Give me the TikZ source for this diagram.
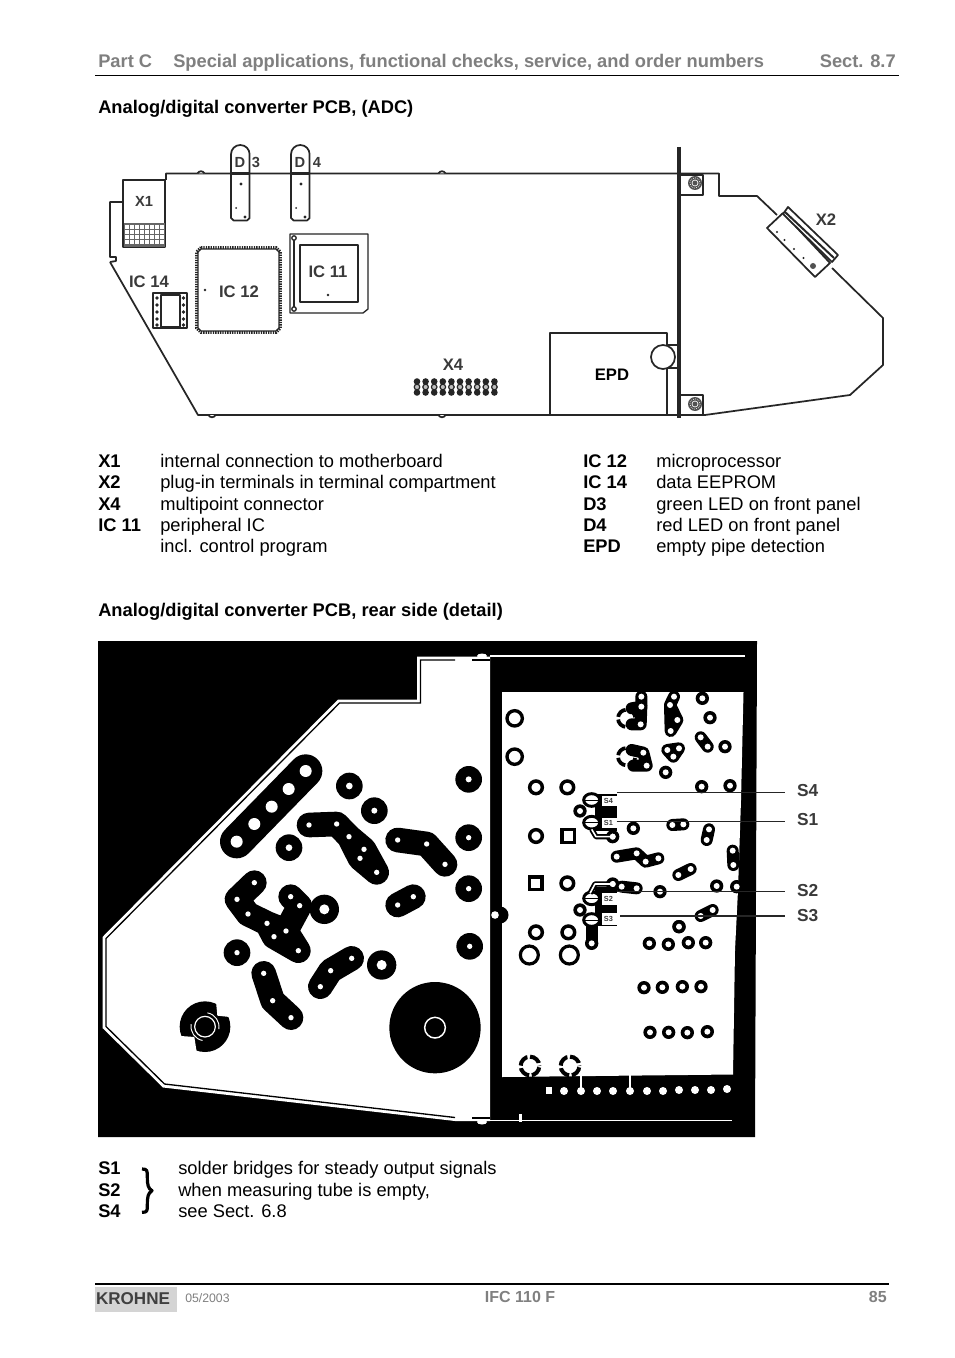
\documentclass[tikz,border=0pt]{standalone}
\usepackage{fontspec}
\setmainfont{Liberation Sans}
\definecolor{hdgray}{HTML}{7F7F7F}
\definecolor{ftgray}{HTML}{808080}
\definecolor{ink}{HTML}{262626}
\definecolor{lab}{HTML}{3A3A3A}
\tikzset{
  x=0.75pt,y=-0.75pt,
  hd/.style={anchor=base west,inner sep=0,text=hdgray,font=\bfseries\fontsize{13.72}{15}\selectfont},
  ttl/.style={anchor=base west,inner sep=0,font=\bfseries\fontsize{13.72}{15}\selectfont},
  txt/.style={anchor=base west,inner sep=0,font=\fontsize{13.72}{15}\selectfont},
  biglab/.style={inner sep=0,text=lab,font=\bfseries\fontsize{12.5}{14}\selectfont},
  midlab/.style={inner sep=0,text=lab,font=\bfseries\fontsize{11}{13}\selectfont},
  slab/.style={inner sep=0,text=lab,font=\bfseries\fontsize{13}{14}\selectfont},
  tiny/.style={inner sep=0,text=lab,font=\bfseries\fontsize{5.5}{6}\selectfont},
  pcb/.style={draw=ink,line width=1.3pt,line join=round},
  thin/.style={draw=ink,line width=1pt,line join=round},
  zL/.style={shift={(95,640)},x=.25pt,y=-.25pt},
  zR/.style={shift={(480,640)},x=.25pt,y=-.25pt},
  zS/.style={shift={(480,900)},x=.25pt,y=-.25pt},
  trk/.style={draw=black,line width=18.5pt,line cap=round,line join=round},
  rtrk/.style={draw=black,line width=9pt,line cap=round,line join=round},
}
\begin{document}
\begin{tikzpicture}
\useasboundingbox (0,0) rectangle (954,1358);
\fill[white] (0,0) rectangle (954,1358);
% header
\node[hd] (hA) at (98,68) {Part C};
\node[hd] (hB) at (173,68) {Special applications, functional checks, service, and order numbers};
\node[hd,anchor=base east] (hC) at (896,68) {Sect. 8.7};
\draw[black,line width=0.75pt] (95,76) -- (899,76);
\node[ttl] (t1) at (98,114) {Analog/digital converter PCB, (ADC)};

% ---- upper board
\draw[pcb] (166,180) -- (166,173.5) -- (680,173.5) -- (719,173.5) -- (719,196) -- (757,196) -- (777,215);
\draw[pcb] (832,268) -- (883,318) -- (883,365) -- (850,395) -- (705,415) -- (198,415) -- (110,262);
\draw[pcb] (123,202) -- (110,202) -- (110,257) -- (116,257) -- (116,261) -- (110,262);
\foreach \cx/\cy in {201/173.5,442/173.5}
  \draw[pcb,fill=white] (\cx-3.5,\cy) .. controls (\cx-2,\cy-3) and (\cx+2,\cy-3) .. (\cx+3.5,\cy);
\foreach \cx/\cy in {212/415,442/415}
  \draw[pcb,fill=white] (\cx-3.5,\cy) .. controls (\cx-2,\cy+3) and (\cx+2,\cy+3) .. (\cx+3.5,\cy);
\draw[draw=ink,line width=2.4pt] (679,147) -- (679,418);
% X1
\draw[pcb] (123,180) rectangle (165,247);
\fill[ink!70] (124,223) rectangle (165,247);
\foreach \yy in {227,232,237,242} \foreach \xx in {127,132,...,162}
  \fill[white] (\xx-1.6,\yy-1.6) rectangle (\xx+1.6,\yy+1.6);
\node[midlab] (x1) at (144,201) {X1};
% D3 D4
\foreach \xa in {231,291}{
  \draw[pcb] (\xa,218) -- (\xa,154.3) arc[start angle=180,end angle=360,radius=9.3] -- (\xa+18.6,218) -- (\xa+16,220.5) -- (\xa+2.6,220.5) -- cycle;
  \draw[draw=ink,line width=1.6pt] (\xa,173.5) -- (\xa+18.6,173.5);
  \fill[ink] (\xa+10,184) circle (1.6);
  \fill[ink] (\xa+5,208) circle (1);
  \fill[ink] (\xa+14,217) circle (1.6);
}
\node[midlab] (d3a) at (240,162) {D};
\node[midlab] (d3b) at (256,162) {3};
\node[midlab] (d4a) at (300,162) {D};
\node[midlab] (d4b) at (317,162) {4};
% IC12
\draw[ink,line width=2.2pt,dash pattern=on 1pt off 0.8pt] (201,247.5) -- (276,247.5) -- (280.5,252) -- (280.5,328) -- (276,332.5) -- (201,332.5) -- (196.5,328) -- (196.5,252) -- cycle;
\draw[thin] (201,249) -- (276,249) -- (279,252) -- (279,328) -- (276,331) -- (201,331) -- (198,328) -- (198,252) -- cycle;
\fill[ink] (205,290) circle (1.3);
\node[biglab] (ic12) at (239,292) {IC 12};
% IC11
\draw[thin] (290,234) -- (368,234) -- (368,309) -- (363,313) -- (290,313) -- cycle;
\draw[thin] (294,240) -- (294,307);
\draw[pcb] (300,245) rectangle (358,302);
\draw[thin,fill=white] (294,238) circle (2.2);
\draw[thin,fill=white] (294,309) circle (2.2);
\fill[ink] (328,295) circle (1.4);
\node[biglab] (ic11) at (328,272) {IC 11};
% IC14
\draw[pcb] (153,293) rectangle (187,328);
\draw[thin] (161,295) rectangle (180,327);
\foreach \yy in {298,305,312,319,325}{\fill[ink] (157,\yy) circle (1.8);\fill[ink] (183.5,\yy) circle (1.8);}
\node[biglab] (ic14) at (149,282) {IC 14};
% X4
\node[biglab] (x4) at (453,365) {X4};
\foreach \xx in {417,425.6,...,498}{
  \fill[ink] (\xx,381.5) circle (3.3);
  \fill[ink] (\xx,392.5) circle (3.3);
  \draw[ink,fill=white!75!black,line width=0.9pt] (\xx,387) circle (2.8);
}
% screws
\foreach \cy/\ya/\yb in {183/175/195,404/395/415}{
  \draw[thin] (680,\ya) rectangle (703,\yb);
  \fill[ink!80] (695,\cy) circle (7);
  \draw[white,line width=.5pt] (695,\cy) circle (3);
  \draw[white,line width=.5pt,densely dotted] (695,\cy) circle (5.2);
}
% EPD
\draw[pcb] (550,415) -- (550,333) -- (667,333) -- (667,415);
\draw[pcb,fill=white] (663,357) circle (12);
\draw[thin] (667,345) -- (679,345);
\draw[thin] (667,368) -- (679,368);
\node[ttl,anchor=center,font=\bfseries\fontsize{12.5}{14}\selectfont] (epd) at (612,375) {EPD};
% X2
\draw[pcb,fill=white] (767,228) -- (783,213) -- (830,263) -- (815,277) -- cycle;
\draw[pcb,fill=white] (783,214) -- (788,207) -- (838,255) -- (832,262) -- cycle;
\draw[draw=ink,line width=1.5pt] (785,212) -- (834,258);
\foreach \xx/\yy in {777/232,784.5/240,794/249,803.5/258}{\fill[ink] (\xx,\yy) circle (1.2);}
\fill[ink!80] (813,266) circle (3);
\node[biglab] (x2) at (826,220) {X2};

% ---- legend
\node[ttl] (l1) at (98,467) {X1};
\node[txt] (l1t) at (160,467) {internal connection to motherboard};
\node[ttl] (l2) at (98,488) {X2};
\node[txt] (l2t) at (160,488) {plug-in terminals in terminal compartment};
\node[ttl] (l3) at (98,510) {X4};
\node[txt] (l3t) at (160,510) {multipoint connector};
\node[ttl] (l4) at (98,531) {IC 11};
\node[txt] (l4t) at (160,531) {peripheral IC};
\node[txt] (l5t) at (160,552) {incl. control program};
\node[ttl] (r1) at (583,467) {IC 12};
\node[txt] (r1t) at (656,467) {microprocessor};
\node[ttl] (r2) at (583,488) {IC 14};
\node[txt] (r2t) at (656,488) {data EEPROM};
\node[ttl] (r3) at (583,510) {D3};
\node[txt] (r3t) at (656,510) {green LED on front panel};
\node[ttl] (r4) at (583,531) {D4};
\node[txt] (r4t) at (656,531) {red LED on front panel};
\node[ttl] (r5) at (583,552) {EPD};
\node[txt] (r5t) at (656,552) {empty pipe detection};
\node[ttl] (t2) at (98,616) {Analog/digital converter PCB, rear side (detail)};

% ---- rear-side picture
\fill[black] (98,641) -- (757,641) -- (755,1137) -- (98,1137) -- cycle;
% left board
\fill[white] (417,656.5) -- (490,656.5) -- (490,1121) -- (455,1121) -- (163,1087.5) -- (102.5,1028) -- (102.5,937) -- (338,699.5) -- (417,699.5) -- cycle;
\draw[black,line width=1pt,line join=miter] (455,660) -- (420.5,660) -- (420.5,703) -- (339.5,703) -- (106,938.5) -- (106,1026.5) -- (164.5,1084) -- (455,1117.5);
\draw[black,line width=1pt] (472,660) -- (490,660);
\draw[black,line width=1pt] (472,1118) -- (490,1118);
\fill[white] (482,656) ellipse (5 and 2.5);
\fill[white] (482,1122) ellipse (5 and 2.5);
% right board
\fill[white] (502,692) -- (743.5,692) -- (741,800) -- (738,890) -- (735,950) -- (733,1074.5) -- (502,1077) -- cycle;
\draw[white,line width=1pt] (490,656) -- (745,656);
\draw[white,line width=1pt] (490,1120.5) -- (732,1120.5);
\fill[white] (519,1114) rectangle (522,1122);
\fill[black] (500,915) circle (8.5);
\fill[white] (495,915) circle (3.8);
% bottom pads
\fill[white] (545.5,1087) rectangle (552,1094);
\foreach \xx/\yy in {564/1091,581/1091,597/1091,613/1091,630/1091,647/1091,663/1091,679/1090,695/1090,711/1090,727/1089}
  \fill[white] (\xx,\yy) circle (4);
\fill[white] (580,1074) rectangle (582,1091);
\fill[white] (629,1074) rectangle (631,1091);

% left pads
\begin{scope}[zL]
  \draw[draw=black,line width=25pt,line cap=round] (425,605) -- (632,393);
  \foreach \xx/\yy/\rr in {425/605/18,478/552/18,530/500/18,581/447/18,632/393/18} \fill[white] (\xx,\yy) circle (\rr);
  \foreach \xx/\yy/\ro/\ri in {763/438/40/10,838/512/40/9,582/623/40/10,1121/418/40/9,1121/593/40/8,1121/746/40/8,1124/919/40/8,426/938/40/8,688/808/44/15,860/975/44/15}{
    \fill[black] (\xx,\yy) circle (\ro);
  }
  \draw[trk] (642,555) -- (725,552) -- (762,590) -- (795,655) -- (845,697) -- (807,628) -- (762,590);
  \draw[trk] (908,600) -- (995,612) -- (1050,673);
  \draw[trk] (908,795) -- (955,770);
  \draw[trk] (478,728) -- (426,778) -- (459,822) -- (516,850) -- (537,890) -- (610,932) -- (573,873) -- (516,850);
  \draw[trk] (587,770) -- (614,797) -- (573,873);
  \draw[trk] (676,1040) -- (707,992) -- (770,955);
  \draw[trk] (506,1000) -- (533,1082) -- (588,1133);
  \foreach \xx/\yy/\ri in {763/438/10,838/512/9,582/623/10,1121/418/9,1121/593/8,1121/746/8,1124/919/8,426/938/8,688/808/15,860/975/15,
     642/555/8,725/552/8,762/590/8,807/628/8,795/655/8,845/697/8,908/600/8,995/612/8,1050/673/8,908/795/8,955/770/8,
     478/728/8,426/778/8,459/822/8,516/850/8,537/890/8,573/873/8,610/932/8,587/770/8,614/797/8,
     676/1040/8,707/992/8,770/955/8,506/1000/8,533/1082/8,588/1133/8}
    \fill[white] (\xx,\yy) circle (\ri);
  % big pad
  \fill[black] (1020,1163) circle (137);
  \draw[white,line width=1.1pt] (1020,1163) circle (31);
  % mounting pad
  \fill[black] (330,1160) circle (76);
  \fill[white] (362,1074) -- (367,1127) -- (414,1132) -- (430,1060) -- cycle;
  \fill[white] (245,1187) -- (298,1191) -- (306,1242) -- (225,1255) -- cycle;
  \draw[white,line width=.9pt] (330,1160) circle (31);
  \draw[white,line width=.7pt] (330,1160) ++(100:42) arc[start angle=100,end angle=190,radius=42];
  \draw[white,line width=.7pt] (330,1160) ++(-80:42) arc[start angle=-80,end angle=10,radius=42];
\end{scope}

% right pads, upper
\begin{scope}[zR]
  \draw[black,line width=2.5pt] (104,235) circle (23);
  \draw[black,line width=2.5pt] (104,350) circle (23);
  \foreach \xx/\yy in {168/442,262/442,168/588,262/730}
    \draw[black,line width=2.6pt] (\xx,\yy) circle (19);
  \foreach \xx/\yy in {265/588,167/730}
    \draw[black,line width=2.4pt] (\xx-19,\yy-19) rectangle (\xx+19,\yy+19);
  \foreach \xx/\yy in {440/235,440/350}
    \draw[black,line width=2.8pt,dash pattern=on 8.2pt off 2pt,dash phase=9.2pt] (\xx,\yy) circle (26);
  % chains
  \draw[rtrk] (484,170) -- (484,200) -- (482,253) -- (455,253);
  \draw[rtrk] (455,205) -- (484,200);
  \draw[rtrk] (582,170) -- (570,195) -- (572,273) -- (592,240) -- (570,195);
  \draw[rtrk] (662,292) -- (683,320);
  \draw[rtrk] (455,330) -- (490,338) -- (500,377) -- (460,377);
  \draw[rtrk] (562,330) -- (597,325) -- (580,350) -- cycle;
  \draw[rtrk] (577,555) -- (610,553);
  \draw[rtrk] (687,568) -- (680,600);
  \draw[rtrk] (758,632) -- (760,675);
  \draw[rtrk] (410,650) -- (470,640) -- (497,665) -- (535,655);
  \draw[rtrk] (595,705) -- (632,687);
  \draw[rtrk] (425,740) -- (470,745);
  \draw[rtrk] (662,828) -- (698,810);
  \draw[rtrk] (335,860) -- (335,910);
  \foreach \xx/\yy in {667/175,690/233,735/320,557/397,665/440,750/437,460/565,710/738,540/755,597/860,300/513,300/810,398/590,398/732,770/740,335/910}
    \fill[black] (\xx,\yy) circle (20);
  % holes
  \foreach \xx/\yy in {484/170,484/200,482/253,570/195,592/240,572/273,582/170,667/175,690/233,662/292,683/320,735/320,490/338,500/377,562/330,597/325,580/350,557/397,665/440,750/437,460/565,577/555,610/553,687/568,680/600,758/632,760/675,410/650,470/640,497/665,535/655,595/705,632/687,710/738,540/755,425/740,470/745,597/860,662/828,698/810,300/513,300/810,398/590,398/732,335/910,770/740}
    \fill[white] (\xx,\yy) circle (9);
  % bridges S4 / S1
  \fill[black] (345,462) rectangle (412,572);
  \foreach \yy in {480,548}{
    \draw[black,line width=2.2pt,fill=white] (335,\yy) ellipse (24 and 19);
    \draw[black,line width=.6pt] (311,\yy) -- (359,\yy);
  }
  \draw[black,line width=4pt,line join=round] (335,568) -- (348,590) -- (398,590);
  \draw[white,line width=1.2pt,line join=round] (335,568) -- (348,590) -- (398,590);
  \fill[white] (398,590) circle (9);
  \fill[white] (365,468) rectangle (412,498);
  \node[tiny] (s4t) at (385,483) {S4};
  \fill[white] (365,533) rectangle (410,563);
  \node[tiny] (s1t) at (385,548) {S1};
  % bridges S2 / S3
  \fill[black] (345,742) rectangle (412,858);
  \foreach \yy in {775,840}{
    \draw[black,line width=2.2pt,fill=white] (335,\yy) ellipse (24 and 19);
    \draw[black,line width=.6pt] (311,\yy) -- (359,\yy);
  }
  \draw[black,line width=4pt,line join=round] (330,760) -- (345,732) -- (398,732);
  \draw[white,line width=1.2pt,line join=round] (330,760) -- (345,732) -- (398,732);
  \fill[white] (398,732) circle (9);
  \fill[white] (365,760) rectangle (412,795);
  \node[tiny] (s2t) at (385,778) {S2};
  \fill[white] (365,820) rectangle (412,855);
  \node[tiny] (s3t) at (385,838) {S3};
  % leaders
  \node[slab] (s4) at (983,452) {S4};
  \node[slab] (s1) at (983,540) {S1};
  \node[slab] (s2) at (983,752) {S2};
  \node[slab] (s3) at (983,828) {S3};
  \coordinate (c4) at (412,458);
  \coordinate (e4) at (915,458);
  \coordinate (c1) at (410,545);
  \coordinate (e1) at (915,545);
  \coordinate (c2) at (410,755);
  \coordinate (e2) at (915,755);
  \coordinate (c3) at (420,828);
  \coordinate (e3) at (915,828);
  \draw[ink,line width=.8pt] (c4) -- (e4);
  \draw[ink,line width=.8pt] (c1) -- (e1);
  \draw[ink,line width=.8pt] (c2) -- (e2);
  \draw[ink,line width=.8pt] (c3) -- (e3);
\end{scope}

% right pads, lower
\begin{scope}[zS]
  \foreach \xx/\yy in {168/97,265/97}
    \draw[black,line width=2.6pt] (\xx,\yy) circle (19);
  \foreach \xx/\yy in {148/165,268/165}
    \draw[black,line width=2.4pt] (\xx,\yy) circle (27);
  \foreach \xx/\yy in {597/80,508/130,565/133,625/128,677/128,492/263,547/262,607/260,663/260,510/397,566/397,622/398,682/395}{
    \fill[black] (\xx,\yy) circle (20);
    \fill[white] (\xx,\yy) circle (9);
  }
  \foreach \xx/\yy in {150/498,270/498}
    \draw[black,line width=3pt,dash pattern=on 8.6pt off 2pt,dash phase=9.6pt] (\xx,\yy) circle (28);
\end{scope}

% ---- notes below
\node[ttl] (b1) at (98,1174) {S1};
\node[ttl] (b2) at (98,1196) {S2};
\node[ttl] (b4) at (98,1217) {S4};
\node[txt] (b1t) at (178,1174) {solder bridges for steady output signals};
\node[txt] (b2t) at (178,1196) {when measuring tube is empty,};
\node[txt] (b4t) at (178,1217) {see Sect. 6.8};
\begin{scope}[shift={(90,1150)},x=.25pt,y=-.25pt]
  \draw[black,line width=2.4pt,line join=round] (156,57) .. controls (172,57) and (172,62) .. (172,80) .. controls (172,105) and (174,115) .. (186,122) .. controls (174,130) and (172,140) .. (172,165) .. controls (172,183) and (172,187) .. (156,187);
\end{scope}

% ---- footer
\draw[black,line width=1.5pt] (95,1284) -- (889,1284);
\fill[black!17] (95,1287) rectangle (177,1312);
\node[inner sep=0,text=black!75,font=\bfseries\fontsize{12.8}{14}\selectfont] (logo) at (133,1299) {KROHNE};
\node[anchor=base west,inner sep=0,text=ftgray,font=\fontsize{9.2}{11}\selectfont] (date) at (185,1302) {05/2003};
\node[anchor=base,inner sep=0,text=ftgray,font=\bfseries\fontsize{12}{14}\selectfont] (ifc) at (520,1302) {IFC 110 F};
\node[anchor=base east,inner sep=0,text=ftgray,font=\bfseries\fontsize{12}{14}\selectfont] (pg) at (887,1302) {85};
\end{tikzpicture}
\end{document}
